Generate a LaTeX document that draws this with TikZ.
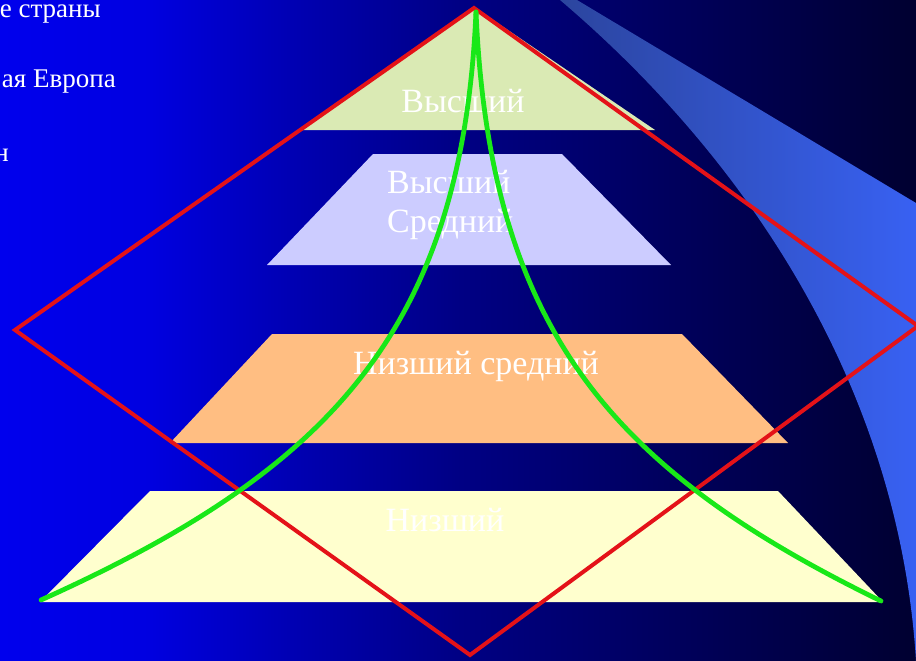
\documentclass[tikz,border=0pt]{standalone}
\usepackage{fontspec}
\setmainfont{Liberation Serif}
\definecolor{swA}{rgb}{0.17,0.27,0.62}
\definecolor{swB}{rgb}{0.22,0.38,0.95}
\definecolor{triG}{RGB}{218,234,180}
\definecolor{lav}{RGB}{204,204,255}
\definecolor{orng}{RGB}{255,190,130}
\definecolor{ylw}{RGB}{255,255,206}
\definecolor{redL}{RGB}{228,18,24}
\definecolor{grnL}{RGB}{24,232,24}
\pgfdeclarehorizontalshading{bgshade}{100bp}{rgb(0bp)=(0,0,0.93); rgb(25bp)=(0,0,0.93); rgb(33bp)=(0,0,0.88); rgb(41bp)=(0,0,0.70); rgb(50bp)=(0,0,0.52); rgb(62bp)=(0,0,0.36); rgb(75bp)=(0,0,0.19); rgb(100bp)=(0,0,0.19)}
\tikzset{
  lbl/.style={text=white, inner sep=0pt, font=\fontsize{34}{39}\selectfont},
  side/.style={text=white, inner sep=0pt, font=\fontsize{27}{32}\selectfont},
  redline/.style={draw=redL, line width=4pt},
  greenline/.style={draw=grnL, line width=4.8pt, line cap=round}
}
\begin{document}
\begin{tikzpicture}[x=1pt,y=-1pt]
\useasboundingbox (0,0) rectangle (916,661);
\clip (0,0) rectangle (916,661);
% background
\shade[shading=bgshade] (0,0) rectangle (916,661);
% swoosh
\shade[left color=swA, right color=swB] (577,0) -- (916,203) -- (916,661)
  .. controls (900,400) and (760,170) .. (560,0) -- cycle;
% side texts (cut off at the left edge)
\node[side, anchor=base east] (t1) at (101,18) {е страны};
\node[side, anchor=base east] (t2) at (116,88) {ая Европа};
\node[side, anchor=base east] (t3) at (9,161) {н};
% pyramid layers
\fill[triG] (302,130) -- (474,7) -- (655,130) -- cycle;
\fill[lav] (373,154) -- (562,154) -- (671,265) -- (267,265) -- cycle;
\fill[orng] (272,334) -- (682,334) -- (788,443) -- (170,443) -- cycle;
\fill[ylw] (150,491) -- (778,491) -- (883,602) -- (40,602) -- cycle;
% labels
\node[lbl, anchor=base] (l1) at (463,112) {Высший};
\node[lbl, anchor=base west, align=left] (l2) at (387,232) {Высший\\Средний};
\node[lbl, anchor=base] (l3) at (476,374) {Низший средний};
\node[lbl, anchor=base] (l4) at (445,531) {Низший};
% diamond
\coordinate (dt) at (474,8);
\coordinate (dr) at (918,326);
\coordinate (db) at (470,655);
\coordinate (dl) at (15,330);
\draw[redline] (dt) -- (dr) -- (db) -- (dl) -- cycle;
% green curves
\coordinate (gt) at (476,12);
\coordinate (gl) at (41,600);
\coordinate (gr) at (881,601);
\draw[greenline] (gt) .. controls (462,330) and (330,470) .. (gl);
\draw[greenline] (gt) .. controls (490,330) and (612,470) .. (gr);
\end{tikzpicture}
\end{document}
